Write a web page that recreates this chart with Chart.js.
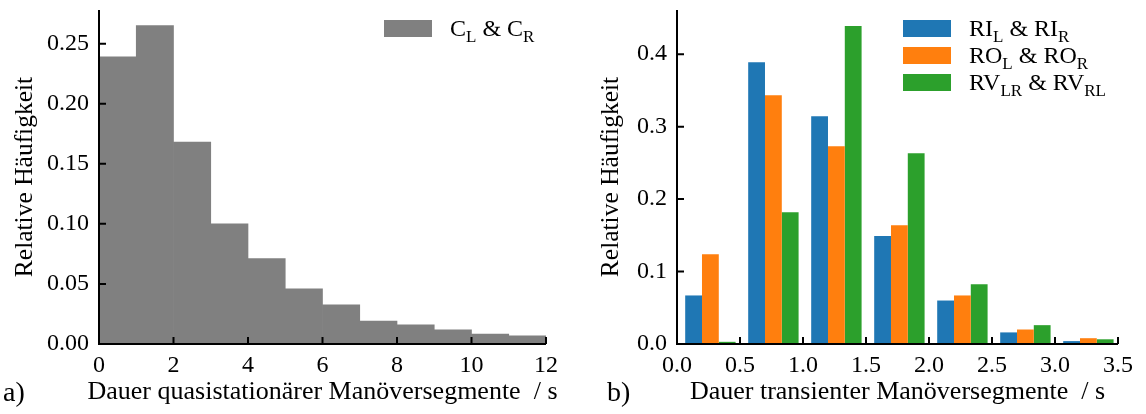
<!DOCTYPE html>
<html>
<head>
<meta charset="utf-8">
<script src="https://cdn.jsdelivr.net/npm/chart.js@4.4.0/dist/chart.umd.min.js"></script>
<style>
  html, body { margin: 0; padding: 0; background: #fff; }
  #wrap { position: relative; width: 1146px; height: 414px; }
  canvas { position: absolute; top: 0; }
  #quasiChart { left: 0; }
  #transChart { left: 573px; }
</style>
</head>
<body>
<div id="wrap">
  <canvas id="quasiChart" width="573" height="414"></canvas>
  <canvas id="transChart" width="573" height="414"></canvas>
</div>
<script>
// a) quasistationary segments, 1 s bins (bin centres)
const quasiBins = [0.5, 1.5, 2.5, 3.5, 4.5, 5.5, 6.5, 7.5, 8.5, 9.5, 10.5, 11.5];
const quasiFreq = [0.239, 0.265, 0.168, 0.100, 0.071, 0.046, 0.0325, 0.019, 0.016, 0.0117, 0.0083, 0.0067];
const quasiTicksX = [0, 2, 4, 6, 8, 10, 12];
const quasiTicksY = [0, 0.05, 0.10, 0.15, 0.20, 0.25];

// b) transient segments, grouped bars (group centres)
const transBins = [0.265, 0.765, 1.265, 1.765, 2.265, 2.765, 3.265];
const riFreq = [0.067, 0.389, 0.3145, 0.149, 0.060, 0.016, 0.004];
const roFreq = [0.124, 0.3435, 0.273, 0.164, 0.067, 0.020, 0.008];
const rvFreq = [0.003, 0.182, 0.4388, 0.2634, 0.0825, 0.026, 0.0065];
const transTicksX = [0, 0.5, 1.0, 1.5, 2.0, 2.5, 3.0, 3.5];
const transTicksY = [0, 0.1, 0.2, 0.3, 0.4];

const FONT = "'Liberation Serif', 'DejaVu Serif', serif";

Chart.defaults.color = '#000';
Chart.defaults.font.family = FONT;

function toPoints(xs, ys) {
    return xs.map((x, i) => ({ x: x, y: ys[i] }));
}

// black left/bottom spines with inward tick marks
const axisLines = {
    id: 'axisLines',
    afterDatasetsDraw(chart) {
        const { ctx, chartArea: a, scales: { x, y } } = chart;
        ctx.save();
        ctx.strokeStyle = '#000';
        ctx.lineWidth = 2;
        ctx.beginPath();
        ctx.moveTo(a.left, a.top);
        ctx.lineTo(a.left, a.bottom);
        ctx.lineTo(a.right, a.bottom);
        x.ticks.forEach(t => {
            const px = x.getPixelForValue(t.value);
            ctx.moveTo(px, a.bottom);
            ctx.lineTo(px, a.bottom - 7);
        });
        y.ticks.forEach(t => {
            const py = y.getPixelForValue(t.value);
            ctx.moveTo(a.left, py);
            ctx.lineTo(a.left + 7, py);
        });
        ctx.stroke();
        ctx.restore();
    }
};

// legend with subscripts: "RV_{LR}" or "C_L"
function labelParts(label) {
    const parts = [];
    const re = /_\{([^}]*)\}|_(\w)/g;
    let last = 0, m;
    while ((m = re.exec(label)) !== null) {
        if (m.index > last) parts.push({ text: label.slice(last, m.index), sub: false });
        parts.push({ text: m[1] || m[2], sub: true });
        last = re.lastIndex;
    }
    if (last < label.length) parts.push({ text: label.slice(last), sub: false });
    return parts;
}

const subLegend = {
    id: 'subLegend',
    afterDraw(chart, args, opts) {
        const ctx = chart.ctx;
        ctx.save();
        chart.data.datasets.forEach((ds, i) => {
            const top = opts.y + i * opts.rowHeight;
            ctx.fillStyle = ds.backgroundColor;
            ctx.fillRect(opts.x, top, 48, 17);
            let tx = opts.x + 66;
            const base = top + 16;
            ctx.fillStyle = '#000';
            ctx.textBaseline = 'alphabetic';
            labelParts(ds.label).forEach(p => {
                ctx.font = (p.sub ? '17px ' : '24px ') + FONT;
                ctx.fillText(p.text, tx, p.sub ? base + 6 : base);
                tx += ctx.measureText(p.text).width;
            });
        });
        ctx.restore();
    }
};

// panel letter and x-axis title below the plot (title may run wider than the axis)
const bottomText = {
    id: 'bottomText',
    afterDraw(chart, args, opts) {
        const { ctx, chartArea: a } = chart;
        ctx.save();
        ctx.fillStyle = '#000';
        ctx.textBaseline = 'alphabetic';
        ctx.font = '28px ' + FONT;
        ctx.textAlign = 'left';
        ctx.fillText(opts.tag, opts.tagX, opts.y);
        ctx.font = '26px ' + FONT;
        ctx.textAlign = 'center';
        ctx.fillText(opts.title, (a.left + a.right) / 2, opts.y - 2);
        ctx.restore();
    }
};

function xScale(ticks, max) {
    return {
        type: 'linear',
        min: 0,
        max: max,
        offset: false,
        grid: { display: false, drawTicks: false, offset: false },
        border: { display: false },
        afterBuildTicks: s => { s.ticks = ticks.map(v => ({ value: v })); },
        afterFit: s => { s.height = 70; s.paddingLeft = 0; s.paddingRight = 0; },
        ticks: {
            font: { size: 24 },
            padding: 7,
            maxRotation: 0,
            autoSkip: false,
            callback: v => ticks === transTicksX ? v.toFixed(1) : String(v)
        }
    };
}

function yScale(ticks, max, digits, width, titlePad) {
    return {
        min: 0,
        max: max,
        grid: { display: false, drawTicks: false },
        border: { display: false },
        afterBuildTicks: s => { s.ticks = ticks.map(v => ({ value: v })); },
        afterFit: s => { s.width = width; s.paddingTop = 0; s.paddingBottom = 0; },
        ticks: {
            font: { size: 24 },
            padding: 10,
            callback: v => v.toFixed(digits)
        },
        title: { display: true, text: 'Relative Häufigkeit', font: { size: 25.5 }, padding: { top: titlePad, bottom: 0 } }
    };
}

new Chart(document.getElementById('quasiChart'), {
    type: 'bar',
    data: {
        datasets: [{
            label: 'C_L & C_R',
            data: toPoints(quasiBins, quasiFreq),
            backgroundColor: '#808080',
            categoryPercentage: 1,
            barPercentage: 1
        }]
    },
    options: {
        responsive: false,
        animation: false,
        devicePixelRatio: 1,
        layout: { padding: { left: 0, right: 27, top: 10, bottom: 0 } },
        scales: {
            x: xScale(quasiTicksX, 12),
            y: yScale(quasiTicksY, 0.278, 2, 99, 10)
        },
        plugins: {
            legend: { display: false },
            tooltip: { enabled: false },
            subLegend: { x: 384, y: 20, rowHeight: 27 },
            bottomText: { tag: 'a)', tagX: 3, y: 401, title: 'Dauer quasistationärer Manöversegmente  / s' }
        }
    },
    plugins: [axisLines, subLegend, bottomText]
});

new Chart(document.getElementById('transChart'), {
    type: 'bar',
    data: {
        datasets: [
            { label: 'RI_L & RI_R', data: toPoints(transBins, riFreq), backgroundColor: '#1f77b4' },
            { label: 'RO_L & RO_R', data: toPoints(transBins, roFreq), backgroundColor: '#ff7f0e' },
            { label: 'RV_{LR} & RV_{RL}', data: toPoints(transBins, rvFreq), backgroundColor: '#2ca02c' }
        ]
    },
    options: {
        responsive: false,
        animation: false,
        devicePixelRatio: 1,
        datasets: { bar: { categoryPercentage: 0.8, barPercentage: 1 } },
        layout: { padding: { left: 0, right: 28, top: 10, bottom: 0 } },
        scales: {
            x: xScale(transTicksX, 3.5),
            y: yScale(transTicksY, 0.461, 1, 104, 23)
        },
        plugins: {
            legend: { display: false },
            tooltip: { enabled: false },
            subLegend: { x: 330, y: 20, rowHeight: 27 },
            bottomText: { tag: 'b)', tagX: 34, y: 401, title: 'Dauer transienter Manöversegmente  / s' }
        }
    },
    plugins: [axisLines, subLegend, bottomText]
});
</script>
</body>
</html>
